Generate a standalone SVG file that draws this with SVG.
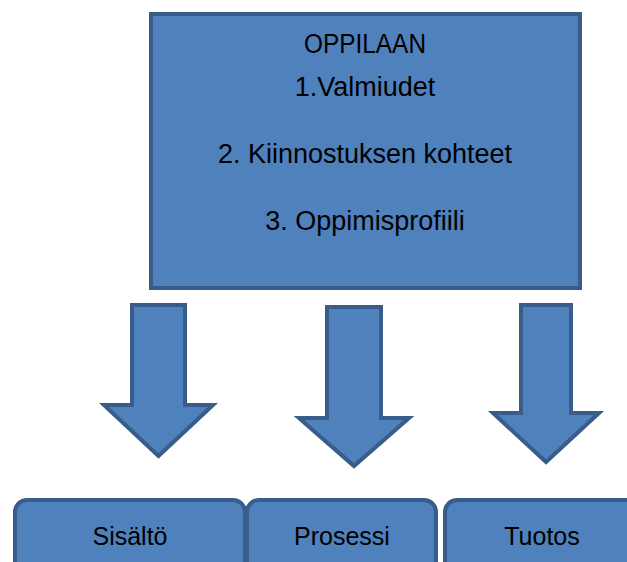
<svg xmlns="http://www.w3.org/2000/svg" width="627" height="562" viewBox="0 0 627 562">
<style>
.shape{fill:#4F81BD;stroke:#385D8A;stroke-width:4;stroke-linejoin:miter}
.t{font-family:"Liberation Sans",Arial,sans-serif;fill:#000;text-anchor:middle}
.top{font-size:27px}
.bot{font-size:25px}
</style>
<rect width="627" height="562" fill="#fff"/>
<g id="oppilaan">
<rect class="shape" x="151" y="14" width="429" height="274"/>
<text class="t top" x="365" y="53" textLength="122" lengthAdjust="spacingAndGlyphs">OPPILAAN</text>
<text class="t top" x="365" y="96">1.Valmiudet</text>
<text class="t top" x="365" y="163">2. Kiinnostuksen kohteet</text>
<text class="t top" x="365" y="230">3. Oppimisprofiili</text>
</g>
<g id="connectors">
<path class="shape" d="M132,305 H185 V405 H213 L158.5,456 L104,405 H132 Z"/>
<path class="shape" d="M327,307 H381 V418 H409 L354,466 L299,418 H327 Z"/>
<path class="shape" d="M521,305 H571 V413 H599 L546,462 L493,413 H521 Z"/>
</g>
<g id="sisalto">
<rect class="shape" x="15" y="500" width="230" height="85" rx="12"/>
<text class="t bot" x="130" y="545">Sisältö</text>
</g>
<g id="prosessi">
<rect class="shape" x="247" y="500" width="189" height="85" rx="12"/>
<text class="t bot" x="342" y="545">Prosessi</text>
</g>
<g id="tuotos">
<rect class="shape" x="445" y="500" width="195" height="85" rx="12"/>
<text class="t bot" x="542" y="545">Tuotos</text>
</g>
</svg>
